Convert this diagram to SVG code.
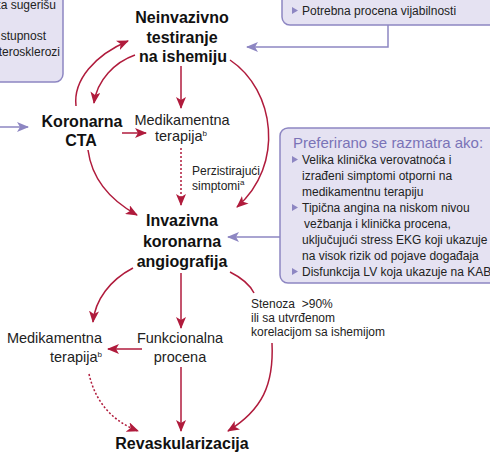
<svg xmlns="http://www.w3.org/2000/svg" width="490" height="452" viewBox="0 0 490 452">
<defs>
<style>
.b{font-family:"Liberation Sans",Arial,sans-serif;font-weight:bold;font-size:16px;fill:#111;text-anchor:middle}
.r{font-family:"Liberation Sans",Arial,sans-serif;font-size:14.5px;fill:#222}
.s{font-family:"Liberation Sans",Arial,sans-serif;font-size:12px;fill:#222}
.box{fill:#e5e2f2;stroke:#8d86c2;stroke-width:1.5}
.pl{fill:none;stroke:#8d86c2;stroke-width:1.5}
.cr{fill:none;stroke:#b01b3c;stroke-width:1.5}
.dot{fill:none;stroke:#b01b3c;stroke-width:1.5;stroke-dasharray:2 2}
.tri{fill:#8d86c2}
.sup{font-size:8px}
</style>
<marker id="ar" viewBox="0 0 12 10" refX="11" refY="5" markerWidth="12" markerHeight="10" markerUnits="userSpaceOnUse" orient="auto">
<path d="M0,0 L12,5 L0,10 L3,5 z" fill="#b01b3c"/>
</marker>
<marker id="ap" viewBox="0 0 12 10" refX="11" refY="5" markerWidth="12" markerHeight="10" markerUnits="userSpaceOnUse" orient="auto">
<path d="M0,0 L12,5 L0,10 L3,5 z" fill="#8d86c2"/>
</marker>
</defs>
<rect width="490" height="452" fill="#fff"/>

<g id="box-topleft">
<rect class="box" x="-20" y="-20" width="83" height="102" rx="8"/>
<text class="s" x="56" y="9" text-anchor="end">ta sugerišu</text>
<text class="s" x="46" y="40" text-anchor="end">stupnost</text>
<text class="s" x="60" y="56" text-anchor="end">terosklerozi</text>
</g>

<g id="box-topright">
<rect class="box" x="282" y="-20" width="230" height="45" rx="8"/>
<path class="tri" d="M292,7 L298,10.5 L292,14 z"/>
<text class="s" x="302" y="15">Potrebna procena vijabilnosti</text>
</g>

<g id="box-right">
<rect class="box" x="280" y="128" width="230" height="155" rx="8"/>
<text x="293" y="148" style="font-family:'Liberation Sans',Arial,sans-serif;font-size:15px;fill:#7a73b7">Preferirano se razmatra ako:</text>
<path class="tri" d="M292,156 L298,159.5 L292,163 z"/>
<text class="s" x="302" y="164">Velika klinička verovatnoća i</text>
<text class="s" x="302" y="180">izrađeni simptomi otporni na</text>
<text class="s" x="302" y="196">medikamentnu terapiju</text>
<path class="tri" d="M292,204 L298,207.5 L292,211 z"/>
<text class="s" x="302" y="212">Tipična angina na niskom nivou</text>
<text class="s" x="304" y="228">vežbanja i klinička procena,</text>
<text class="s" x="302" y="244">uključujući stress EKG koji ukazuje</text>
<text class="s" x="302" y="260">na visok rizik od pojave događaja</text>
<path class="tri" d="M292,268 L298,271.5 L292,275 z"/>
<text class="s" x="302" y="276">Disfunkcija LV koja ukazuje na KAB</text>
</g>

<g id="n-neinvazivno">
<text class="b" x="182" y="23">Neinvazivno</text>
<text class="b" x="182" y="43">testiranje</text>
<text class="b" x="183" y="62">na ishemiju</text>
</g>

<g id="n-cta">
<text class="b" x="82" y="127">Koronarna</text>
<text class="b" x="81" y="146">CTA</text>
</g>

<g id="n-med1">
<text class="r" x="182" y="125" text-anchor="middle">Medikamentna</text>
<text class="r" x="181" y="141" text-anchor="middle">terapija<tspan class="sup" dy="-5">b</tspan></text>
</g>

<g id="n-perz">
<text class="s" x="192" y="175">Perzistirajući</text>
<text class="s" x="192" y="190">simptomi<tspan class="sup" dy="-5">a</tspan></text>
</g>

<g id="n-invazivna">
<text class="b" x="182" y="226">Invazivna</text>
<text class="b" x="182" y="247">koronarna</text>
<text class="b" x="182" y="267">angiografija</text>
</g>

<g id="n-med2">
<text class="r" x="102" y="343" text-anchor="end">Medikamentna</text>
<text class="r" x="102" y="362" text-anchor="end">terapija<tspan class="sup" dy="-5">b</tspan></text>
</g>

<g id="n-funk">
<text class="r" x="180" y="343" text-anchor="middle">Funkcionalna</text>
<text class="r" x="180" y="362" text-anchor="middle">procena</text>
</g>

<g id="n-stenoza">
<text class="s" x="251" y="308" xml:space="preserve">Stenoza  &gt;90%</text>
<text class="s" x="251" y="322">ili sa utvrđenom</text>
<text class="s" x="251" y="336">korelacijom sa ishemijom</text>
</g>

<g id="n-revask">
<text class="b" x="182" y="449">Revaskularizacija</text>
</g>

<g id="connectors">
<path class="pl" d="M0,127 L28,127" marker-end="url(#ap)"/>
<path class="pl" d="M388,25 L388,47 L247,47" marker-end="url(#ap)"/>
<path class="pl" d="M280,237 L228,237" marker-end="url(#ap)"/>

<path class="cr" d="M76,106 C73,80 95,55 128,41" marker-end="url(#ar)"/>
<path class="cr" d="M135,55 C115,62 97,80 94,103" marker-end="url(#ar)"/>
<path class="cr" d="M181,66 L181,108" marker-end="url(#ar)"/>
<path class="cr" d="M230,60 C275,90 285,165 237,207" marker-end="url(#ar)"/>
<path class="cr" d="M122,133 L146,133" marker-end="url(#ar)"/>
<path class="cr" d="M88,150 C92,180 110,200 137,215" marker-end="url(#ar)"/>
<path class="dot" d="M181,148 L181,205" marker-end="url(#ar)"/>

<path class="cr" d="M133,268 C110,280 95,300 93,322" marker-end="url(#ar)"/>
<path class="cr" d="M181,273 L181,328" marker-end="url(#ar)"/>
<path class="cr" d="M142,349 L108,349" marker-end="url(#ar)"/>
<path class="cr" d="M181,367 L181,431" marker-end="url(#ar)"/>
<path class="dot" d="M89,374 C95,400 110,420 138,431" marker-end="url(#ar)"/>
<path class="cr" d="M230,272 C242,278 250,285 254,293"/>
<path class="cr" d="M272,343 C274,385 262,410 228,431" marker-end="url(#ar)"/>
</g>
</svg>
